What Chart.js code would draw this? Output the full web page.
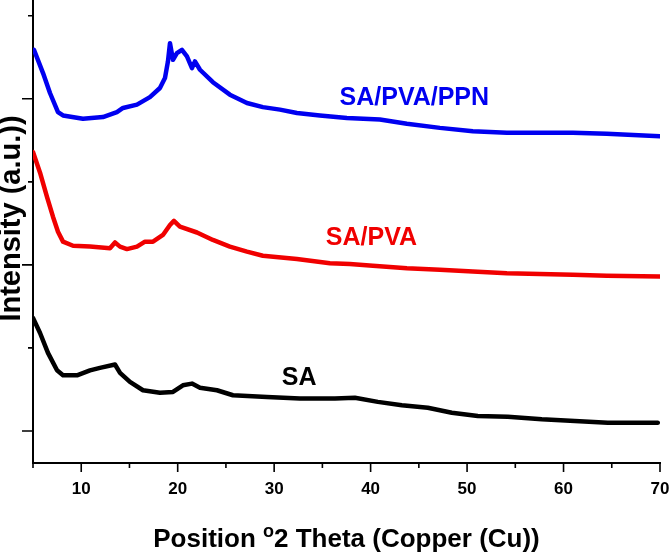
<!DOCTYPE html>
<html>
<head>
<meta charset="utf-8">
<script src="https://cdn.jsdelivr.net/npm/chart.js@4/dist/chart.umd.min.js"></script>
<style>
  html, body { margin: 0; padding: 0; background: #fff; }
  #wrap { width: 669px; height: 553px; }
</style>
</head>
<body>
<div id="wrap"><canvas id="myChart"></canvas></div>
<script>
// XRD patterns (2 theta in degrees, intensity in arbitrary units)
const ppnTheta = [5.1, 6.04, 6.76, 7.59, 8.11, 10.18, 12.25, 13.7, 14.33, 15.78, 17.12, 18.16, 18.68, 18.99, 19.2, 19.51, 19.92, 20.44, 20.96, 21.48, 21.79, 22.31, 23.65, 25.41, 27.18, 28.83, 30.6, 32.36, 34.74, 37.54, 40.96, 43.76, 47.18, 50.6, 54.12, 57.54, 60.96, 64.48, 69.97];
const ppnIntensity = [4.59, 4.31, 4.07, 3.84, 3.8, 3.76, 3.78, 3.84, 3.89, 3.93, 4.02, 4.13, 4.25, 4.45, 4.67, 4.47, 4.55, 4.59, 4.51, 4.37, 4.45, 4.35, 4.2, 4.05, 3.95, 3.9, 3.87, 3.83, 3.8, 3.77, 3.75, 3.7, 3.65, 3.61, 3.59, 3.59, 3.59, 3.58, 3.55];

const pvaTheta = [5.0, 5.73, 6.45, 7.07, 7.59, 8.11, 9.15, 10.91, 12.98, 13.5, 14.02, 14.74, 15.78, 16.61, 17.44, 18.47, 19.2, 19.61, 20.23, 22.0, 23.65, 25.41, 27.18, 28.83, 32.36, 35.78, 37.85, 40.23, 43.76, 47.18, 50.6, 54.12, 57.54, 60.96, 64.48, 69.97];
const pvaIntensity = [3.36, 3.11, 2.82, 2.58, 2.4, 2.28, 2.23, 2.22, 2.2, 2.27, 2.22, 2.19, 2.22, 2.28, 2.28, 2.36, 2.48, 2.53, 2.46, 2.39, 2.3, 2.22, 2.16, 2.11, 2.07, 2.02, 2.01, 1.99, 1.96, 1.94, 1.92, 1.9, 1.89, 1.88, 1.87, 1.86];

const saTheta = [5.0, 5.73, 6.55, 7.49, 8.11, 9.56, 10.91, 11.94, 13.5, 14.02, 15.05, 16.4, 18.16, 19.51, 20.54, 21.48, 22.31, 24.07, 25.73, 29.25, 32.67, 36.3, 38.37, 40.75, 43.24, 45.93, 48.42, 51.11, 54.22, 57.75, 61.17, 64.59, 69.77];
const saIntensity = [1.36, 1.18, 0.94, 0.73, 0.67, 0.67, 0.73, 0.76, 0.8, 0.7, 0.59, 0.49, 0.46, 0.47, 0.55, 0.57, 0.52, 0.49, 0.43, 0.41, 0.39, 0.39, 0.4, 0.35, 0.31, 0.28, 0.22, 0.18, 0.17, 0.14, 0.12, 0.1, 0.1];

const xTickValues = [5, 10, 15, 20, 25, 30, 35, 40, 45, 50, 55, 60, 65, 70];
const yTickValues = [0, 1, 2, 3, 4, 5];

function toPoints(xs, ys) {
  return xs.map((x, i) => ({ x: x, y: ys[i] }));
}

// curve names written next to each pattern (anchored in data units)
const curveNotes = [
  { text: "SA/PVA/PPN", x: 44.53, y: 4.01, color: "#0000f0" },
  { text: "SA/PVA", x: 40.08, y: 2.32, color: "#f00000" },
  { text: "SA", x: 32.6, y: 0.64, color: "#000000" }
];

const FONT = "'Liberation Sans', Arial, sans-serif";

// ticks (long/short), axis titles and curve names
const decorations = {
  id: "decorations",
  afterDraw(chart) {
    const { ctx, chartArea, scales: { x, y } } = chart;
    ctx.save();
    ctx.strokeStyle = "#000";
    ctx.lineWidth = 1.6;
    ctx.beginPath();
    xTickValues.forEach((v) => {
      const px = x.getPixelForValue(v);
      const len = v % 10 === 0 ? 9 : 5;
      ctx.moveTo(px, chartArea.bottom);
      ctx.lineTo(px, chartArea.bottom + len);
    });
    yTickValues.forEach((v) => {
      const py = y.getPixelForValue(v);
      const len = v % 2 === 0 ? 11 : 5;
      ctx.moveTo(chartArea.left - len, py);
      ctx.lineTo(chartArea.left, py);
    });
    ctx.stroke();

    // curve names
    ctx.font = "bold 25px " + FONT;
    ctx.textAlign = "center";
    ctx.textBaseline = "middle";
    curveNotes.forEach((n) => {
      ctx.fillStyle = n.color;
      ctx.fillText(n.text, x.getPixelForValue(n.x), y.getPixelForValue(n.y));
    });

    // x title with the superscript o
    ctx.fillStyle = "#000";
    const big = "bold 26px " + FONT;
    const small = "bold 18px " + FONT;
    const partA = "Position ";
    const partB = "o";
    const partC = "2 Theta (Copper (Cu))";
    ctx.font = big;
    const wA = ctx.measureText(partA).width;
    const wC = ctx.measureText(partC).width;
    ctx.font = small;
    const wB = ctx.measureText(partB).width;
    const total = wA + wB + wC;
    let cx = (chartArea.left + chartArea.right) / 2 - total / 2;
    const baseY = chartArea.bottom + 84;
    ctx.textAlign = "left";
    ctx.textBaseline = "alphabetic";
    ctx.font = big;
    ctx.fillText(partA, cx, baseY);
    cx += wA;
    ctx.font = small;
    ctx.fillText(partB, cx, baseY - 10);
    cx += wB;
    ctx.font = big;
    ctx.fillText(partC, cx, baseY);

    // y title
    ctx.translate(chartArea.left - 21, (chartArea.top + chartArea.bottom) / 2 - 13);
    ctx.rotate(-Math.PI / 2);
    ctx.font = "bold 29px " + FONT;
    ctx.textAlign = "center";
    ctx.textBaseline = "middle";
    ctx.fillText("Intensity (a.u.))", 0, 0);
    ctx.restore();
  }
};

const ctx = document.getElementById("myChart").getContext("2d");
const myChart = new Chart(ctx, {
  type: "line",
  data: {
    datasets: [
      { label: "SA/PVA/PPN", data: toPoints(ppnTheta, ppnIntensity), borderColor: "#0000f0" },
      { label: "SA/PVA", data: toPoints(pvaTheta, pvaIntensity), borderColor: "#f00000" },
      { label: "SA", data: toPoints(saTheta, saIntensity), borderColor: "#000000" }
    ]
  },
  options: {
    responsive: true,
    maintainAspectRatio: false,
    animation: false,
    devicePixelRatio: 1,
    layout: { padding: 0 },
    elements: {
      line: { borderWidth: 4.5, tension: 0, fill: false, borderJoinStyle: "round", borderCapStyle: "round" },
      point: { radius: 0 }
    },
    plugins: {
      legend: { display: false },
      tooltip: { enabled: false }
    },
    scales: {
      x: {
        type: "linear",
        min: 5,
        max: 70,
        afterBuildTicks: (axis) => { axis.ticks = xTickValues.map((v) => ({ value: v })); },
        afterFit: (axis) => { axis.height = 90; axis.paddingRight = 9; axis.paddingLeft = 0; },
        grid: { display: true, drawOnChartArea: false, tickLength: 8, tickColor: "rgba(0,0,0,0)" },
        border: { display: true, color: "#000", width: 2 },
        ticks: {
          autoSkip: false,
          maxRotation: 0,
          padding: 8,
          color: "#000",
          font: { family: FONT, size: 17, weight: "bold" },
          callback: (v) => (v % 10 === 0 ? v : "")
        }
      },
      y: {
        min: -0.386,
        max: 5.19,
        afterFit: (axis) => { axis.width = 33; },
        grid: { display: false },
        border: { display: true, color: "#000", width: 2 },
        ticks: { display: false }
      }
    }
  },
  plugins: [decorations]
});
</script>
</body>
</html>
